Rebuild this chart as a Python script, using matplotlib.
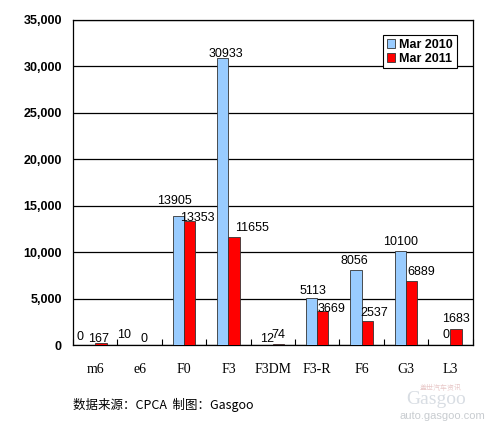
import matplotlib
matplotlib.use("Agg")
import matplotlib.pyplot as plt
import numpy as np

categories = ["m6", "e6", "F0", "F3", "F3DM", "F3-R", "F6", "G3", "L3"]
mar_2010 = [0, 10, 13905, 30933, 12, 5113, 8056, 10100, 0]
mar_2011 = [167, 0, 13353, 11655, 74, 3669, 2537, 6889, 1683]
series_names = ["Mar 2010", "Mar 2011"]
yticks = [0, 5000, 10000, 15000, 20000, 25000, 30000, 35000]
footer = "数据来源：CPCA  制图：Gasgoo"

# label offsets in pixels (dx, dy) -- layout only
off_2010 = [(-10, 5), (-10, 7), (-3.5, 12), (3.5, 1), (0, 3), (1.5, 4), (-1, 6), (0, 6), (1, 7)]
off_2011 = [(-2, 1), (-1, 3), (8, 0), (18, 6), (0, 6), (9, -1), (7, 5), (10, 6), (0, 7)]

W, H = 491, 421
fig = plt.figure(figsize=(W / 100, H / 100), dpi=100)
fig.patch.set_facecolor("white")
ax = fig.add_axes([73 / W, 1 - 345 / H, 399.5 / W, 325 / H])

x = np.arange(len(categories))
w = 0.255
c1, c2 = "#99CCFF", "#FF0000"
ax.bar(x - w / 2, mar_2010, width=w, color=c1, edgecolor="#333333", linewidth=0.6, zorder=3, label=series_names[0])
ax.bar(x + w / 2, mar_2011, width=w, color=c2, edgecolor="#333333", linewidth=0.6, zorder=3, label=series_names[1])

lab_font = dict(family="Liberation Sans", size=9)
for xi, v, (dx, dy) in zip(x - w / 2, mar_2010, off_2010):
    ax.annotate(str(v), (xi, v), xytext=(dx, dy), textcoords="offset pixels",
                ha="center", va="baseline", zorder=5, **lab_font)
for xi, v, (dx, dy) in zip(x + w / 2, mar_2011, off_2011):
    ax.annotate(str(v), (xi, v), xytext=(dx, dy), textcoords="offset pixels",
                ha="center", va="baseline", zorder=5, **lab_font)

ax.set_xlim(-0.5, len(categories) - 0.5)
ax.set_ylim(0, 35000)
ax.set_yticks(yticks)
ax.set_yticklabels([f"{t:,}" for t in yticks], family="Liberation Sans", fontweight="bold", fontsize=9)
ax.yaxis.grid(True, color="black", linewidth=0.9, zorder=1)
ax.set_axisbelow(True)
ax.tick_params(axis="y", length=0, pad=8)

ax.set_xticks(x)
ax.set_xticklabels(categories, family="Liberation Serif", fontsize=10)
ax.tick_params(axis="x", which="major", length=0, pad=13)
ax.set_xticks(np.arange(len(categories) + 1) - 0.5, minor=True)
ax.tick_params(axis="x", which="minor", direction="in", length=4, width=0.8, color="black")

for s in ax.spines.values():
    s.set_color("black")
    s.set_linewidth(0.9)

leg = ax.legend(loc="upper right", bbox_to_anchor=(383.5 / 399.5, 1 - 15 / 325),
                prop=dict(family="Liberation Sans", weight="bold", size=9),
                frameon=True, fancybox=False, edgecolor="black", framealpha=1,
                handlelength=0.7, handleheight=0.7, handletextpad=0.3,
                borderpad=0.3, labelspacing=0.15, borderaxespad=0)
leg.get_frame().set_linewidth(0.8)

fig.text(73 / W, 1 - 405 / H, footer, family=["Noto Sans CJK SC", "DejaVu Sans"],
         fontsize=9, ha="left", va="center")
# faint watermark
fig.text(441 / W, 1 - 388 / H, "盖世汽车资讯", family=["Noto Sans CJK SC", "DejaVu Sans"],
         fontsize=5, color="#e8c8c8", ha="center", va="center")
fig.text(436 / W, 1 - 399 / H, "Gasgoo", family="Liberation Serif",
         fontsize=14, color="#d8dde3", ha="center", va="center")
fig.text(442 / W, 1 - 416 / H, "auto.gasgoo.com", family="Liberation Sans",
         fontsize=8, color="#c8ccd0", ha="center", va="center")

fig.savefig("out.png", dpi=100, facecolor="white")
